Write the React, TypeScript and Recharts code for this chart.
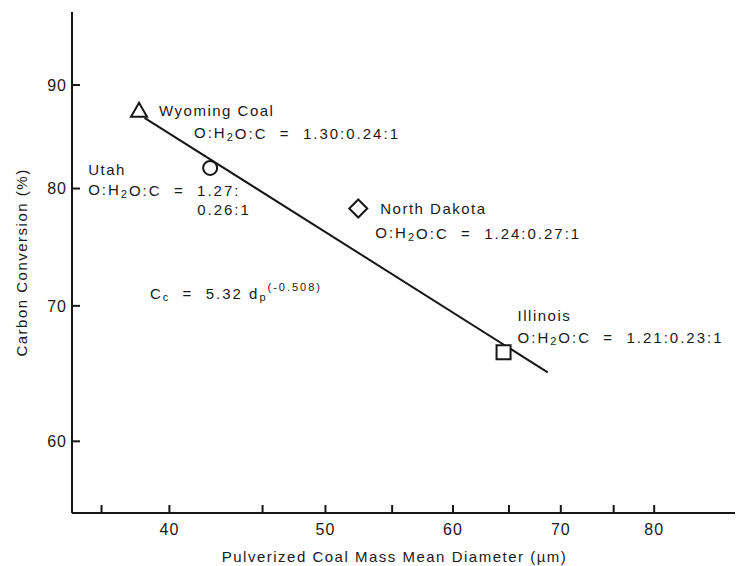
import { ScatterChart, Scatter, XAxis, YAxis, ReferenceDot } from 'recharts';

// coal samples
const coals = ['Wyoming Coal', 'Utah', 'North Dakota', 'Illinois'];
const diameters = [38.3, 42.4, 52.4, 64.5];
const conversions = [87.4, 81.9, 78.2, 66.4];
const ratios = ['1.30:0.24:1', '1.27:0.26:1', '1.24:0.27:1', '1.21:0.23:1'];

// power-law fit line end points
const fitDiameters = [38.6, 68.7];
const fitConversions = [86.7, 64.9];

// equation anchor (data units)
const equationAt = [38.9, 71.0];

const xTicks = [36.3, 40, 45.7, 50, 55, 60, 65, 70, 75.5, 80];
const xTickLabels = [40, 50, 60, 70, 80];
const yTicks = [60, 70, 80, 90];

const INK = '#161616';
const TEXT = '#1a1a1a';
const FONT = '"Liberation Sans", Arial, Helvetica, sans-serif';

const points = coals.map((name, i) => ({ d: diameters[i], c: conversions[i], i }));
const fitLine = fitDiameters.map((d, i) => ({ d, c: fitConversions[i] }));

// label offsets from each marker, px
const labelLayout = [
  { name: [20, 0], ratio: [55, 22] },
  { name: [-122, 2], ratio: [-122, 22], wrap: [-13, 42] },
  { name: [22, 0], ratio: [17, 24] },
  { name: [14, -37], ratio: [14, -15] },
];

const NB = '\u00A0';

function RatioText({ x, y, value }: { x: number; y: number; value: string }) {
  return (
    <text x={x} y={y} fontSize={15} fill={TEXT} letterSpacing={2} dominantBaseline="central">
      O:H
      <tspan fontSize={11} dy={4}>2</tspan>
      <tspan dy={-4}>{`O:C${NB}${NB}=${NB}${NB}${value}`}</tspan>
    </text>
  );
}

function CoalMarker(props: any) {
  const { cx, cy, payload } = props;
  const i: number = payload.i;
  const lay = labelLayout[i];
  const st = { fill: '#fff', stroke: INK, strokeWidth: 2 };
  let marker;
  if (i === 0) {
    marker = <polygon points={`${cx},${cy - 8} ${cx + 8},${cy + 6} ${cx - 8},${cy + 6}`} {...st} />;
  } else if (i === 1) {
    marker = <circle cx={cx} cy={cy} r={7} {...st} />;
  } else if (i === 2) {
    marker = <polygon points={`${cx},${cy - 9} ${cx + 9},${cy} ${cx},${cy + 9} ${cx - 9},${cy}`} {...st} />;
  } else {
    marker = <rect x={cx - 7} y={cy - 7} width={14} height={14} {...st} />;
  }

  let ratioPart;
  if (lay.wrap) {
    const parts = ratios[i].split(':');
    ratioPart = (
      <g>
        <RatioText x={cx + lay.ratio[0]} y={cy + lay.ratio[1]} value={parts[0] + ':'} />
        <text x={cx + lay.wrap[0]} y={cy + lay.wrap[1]} fontSize={15} fill={TEXT} letterSpacing={2} dominantBaseline="central">
          {parts.slice(1).join(':')}
        </text>
      </g>
    );
  } else {
    ratioPart = <RatioText x={cx + lay.ratio[0]} y={cy + lay.ratio[1]} value={ratios[i]} />;
  }

  return (
    <g>
      {marker}
      <text x={cx + lay.name[0]} y={cy + lay.name[1]} fontSize={15} fill={TEXT} letterSpacing={1.5} dominantBaseline="central">
        {coals[i]}
      </text>
      {ratioPart}
    </g>
  );
}

function Equation(props: any) {
  const { viewBox } = props;
  const x = viewBox.x;
  const y = viewBox.y;
  return (
    <text x={x} y={y} fontSize={15} fill={TEXT} letterSpacing={2} dominantBaseline="central">
      C
      <tspan fontSize={11} dy={4}>c</tspan>
      <tspan dy={-4}>{`${NB}${NB}=${NB}${NB}5.32${NB}d`}</tspan>
      <tspan fontSize={11} dy={4}>p</tspan>
      <tspan fontSize={11} dy={-10}>(-0.508)</tspan>
    </text>
  );
}

const axisLine = { stroke: INK, strokeWidth: 2 };
const tickLine = { stroke: INK, strokeWidth: 2 };
const blank = () => '';

export default function App() {
  return (
    <div style={{ position: 'absolute', left: 0, top: 0, fontFamily: FONT, background: '#fff' }}>
      <ScatterChart width={736} height={566} margin={{ top: 12, right: 1, bottom: 0, left: 0 }}>
        <XAxis
          xAxisId="b"
          type="number"
          dataKey="d"
          scale="log"
          domain={[34.8, 89.8]}
          allowDataOverflow
          ticks={xTicks}
          interval={0}
          height={53}
          tickSize={-8}
          tickMargin={19}
          axisLine={axisLine}
          tickLine={tickLine}
          tick={{ fill: TEXT, fontSize: 16, letterSpacing: 1 }}
          tickFormatter={(v: number) => (xTickLabels.includes(v) ? String(v) : '')}
          label={{
            value: 'Pulverized Coal Mass Mean Diameter (µm)',
            position: 'insideBottom',
            offset: 4,
            dx: -9,
            fill: TEXT,
            fontSize: 15,
            style: { letterSpacing: '1.5px' },
          }}
        />
        <XAxis
          xAxisId="t"
          orientation="top"
          type="number"
          dataKey="d"
          scale="log"
          domain={[34.8, 89.8]}
          allowDataOverflow
          ticks={xTicks}
          interval={0}
          height={0}
          tickSize={-8}
          axisLine={axisLine}
          tickLine={tickLine}
          tickFormatter={blank}
        />
        <YAxis
          yAxisId="l"
          type="number"
          dataKey="c"
          scale="log"
          domain={[55.3, 97.8]}
          allowDataOverflow
          ticks={yTicks}
          interval={0}
          width={72}
          tickSize={-8}
          tickMargin={13}
          axisLine={axisLine}
          tickLine={tickLine}
          tick={{ fill: TEXT, fontSize: 16, letterSpacing: 1 }}
          label={{
            value: 'Carbon Conversion (%)',
            angle: -90,
            position: 'insideLeft',
            offset: 22,
            fill: TEXT,
            fontSize: 15,
            style: { textAnchor: 'middle', letterSpacing: '1.5px' },
          }}
        />
        <YAxis
          yAxisId="r"
          orientation="right"
          type="number"
          dataKey="c"
          scale="log"
          domain={[55.3, 97.8]}
          allowDataOverflow
          ticks={yTicks}
          interval={0}
          width={0}
          tickSize={-8}
          axisLine={axisLine}
          tickLine={tickLine}
          tickFormatter={blank}
        />
        <Scatter
          xAxisId="b"
          yAxisId="l"
          data={fitLine}
          line={{ stroke: INK, strokeWidth: 2 }}
          shape={() => <g />}
          isAnimationActive={false}
        />
        <Scatter
          xAxisId="b"
          yAxisId="l"
          data={points}
          shape={CoalMarker}
          isAnimationActive={false}
        />
        <ReferenceDot
          xAxisId="b"
          yAxisId="l"
          x={equationAt[0]}
          y={equationAt[1]}
          r={0}
          stroke="none"
          fill="none"
          label={<Equation />}
        />
      </ScatterChart>
    </div>
  );
}
